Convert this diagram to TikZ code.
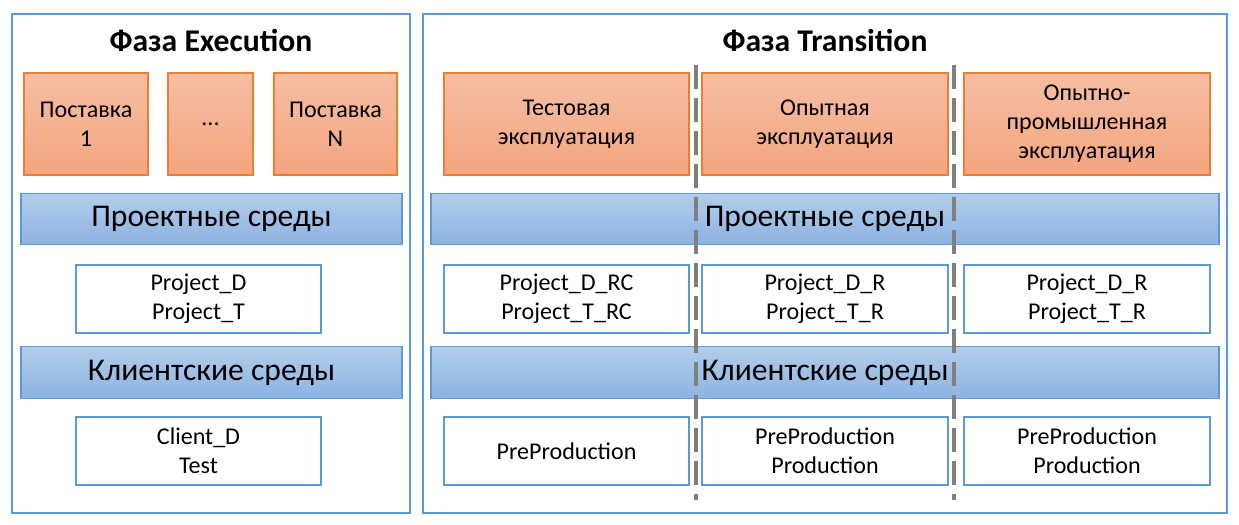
\documentclass[tikz,border=0pt]{standalone}
\usepackage{fontspec}
\setmainfont{Carlito}
\definecolor{framecol}{HTML}{5B9BD5}
\definecolor{orangeedge}{HTML}{ED7D31}
\definecolor{orangetop}{HTML}{F6BEA3}
\definecolor{orangebot}{HTML}{F4A580}
\definecolor{bluetop}{HTML}{B2CDEA}
\definecolor{bluebot}{HTML}{8DB3E2}
\definecolor{sepgray}{HTML}{7F7F7F}
\begin{document}
\begin{tikzpicture}[x=0.02cm,y=-0.02cm,
  phase/.style={draw=framecol,line width=1.2pt,inner sep=0pt},
  stage/.style={draw=orangeedge,line width=0.7pt,top color=orangetop,bottom color=orangebot,
    align=center,inner sep=0pt,minimum height=2.04cm,font=\fontsize{13.7}{16.5}\selectfont},
  envbar/.style={draw=framecol,line width=0.7pt,top color=bluetop,bottom color=bluebot,
    inner sep=0pt,minimum height=1.03cm,font=\fontsize{18}{21}\selectfont},
  envbox/.style={draw=framecol,line width=0.7pt,fill=white,align=center,inner sep=0pt,
    minimum width=4.9cm,minimum height=1.36cm,font=\fontsize{13.7}{16.5}\selectfont},
  title/.style={font=\bfseries\fontsize{18}{21}\selectfont},
  divider/.style={sepgray,line width=2pt,dash pattern=on 0.48cm off 0.18cm}]
\useasboundingbox (0,0) rectangle (1239,524);

% phase frames
\node[phase,minimum width=7.96cm,minimum height=9.98cm] (exec) at (211,263.5) {};
\node[phase,minimum width=16.08cm,minimum height=9.98cm] (trans) at (825,263.5) {};
\node[title] (exectitle) at (211,40) {Фаза Execution};
\node[title] (transtitle) at (825,40) {Фаза Transition};

% execution phase
\node[stage,minimum width=2.48cm] (del1) at (86,124) {Поставка\\1};
\node[stage,minimum width=1.7cm] (deldots) at (210.5,124) {...};
\node[stage,minimum width=2.46cm] (delN) at (335.5,124) {Поставка\\N};
\node[envbar,minimum width=7.62cm] (execproj) at (211.5,219) {Проектные среды};
\node[envbox] (execprojenv) at (198.5,299) {Project\_D\\Project\_T};
\node[envbar,minimum width=7.62cm] (execclient) at (211.5,372.5) {Клиентские среды};
\node[envbox] (execclientenv) at (198.5,451) {Client\_D\\Test};

% transition phase
\node[stage,minimum width=4.9cm] (test) at (566.5,124) {Тестовая\\эксплуатация};
\node[stage,minimum width=4.92cm] (pilot) at (825,124) {Опытная\\эксплуатация};
\node[stage,minimum width=4.92cm] (prod) at (1087,124) {Опытно-\\промышленная\\эксплуатация};
\node[envbar,minimum width=15.76cm] (transproj) at (825,219) {Проектные среды};
\node[envbox] (testproj) at (566.5,299) {Project\_D\_RC\\Project\_T\_RC};
\node[envbox,minimum width=4.92cm] (pilotproj) at (825,299) {Project\_D\_R\\Project\_T\_R};
\node[envbox,minimum width=4.92cm] (prodproj) at (1087,299) {Project\_D\_R\\Project\_T\_R};
\node[envbar,minimum width=15.76cm] (transclient) at (825,372.5) {Клиентские среды};
\node[envbox] (testclient) at (566.5,451) {PreProduction};
\node[envbox,minimum width=4.92cm] (pilotclient) at (825,451) {PreProduction\\Production};
\node[envbox,minimum width=4.92cm] (prodclient) at (1087,451) {PreProduction\\Production};

% dividers
\coordinate (div1top) at (696,65);
\coordinate (div1bot) at (696,500);
\coordinate (div2top) at (954,65);
\coordinate (div2bot) at (954,500);
\draw[divider] (div1top) -- (div1bot);
\draw[divider] (div2top) -- (div2bot);
\end{tikzpicture}
\end{document}
